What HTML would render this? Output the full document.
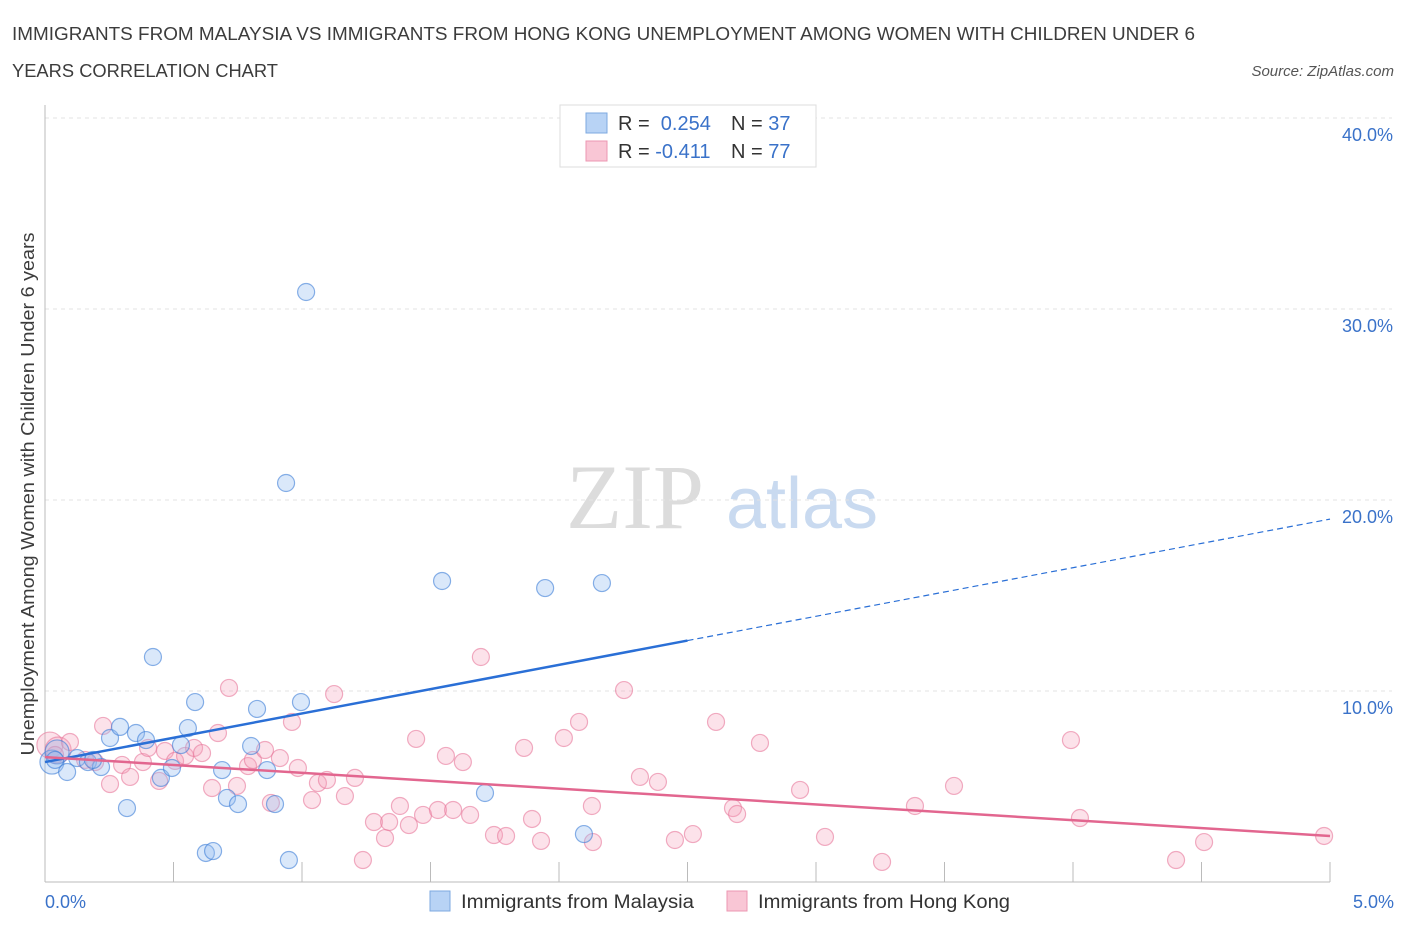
<!DOCTYPE html>
<html><head><meta charset="utf-8"><style>
body{margin:0;background:#fff;font-family:"Liberation Sans",sans-serif}
svg{display:block}
</style></head><body>
<svg id="chart" width="1406" height="930">
<text x="12" y="40" font-size="18" fill="#3c3c3c" textLength="1183" lengthAdjust="spacingAndGlyphs">IMMIGRANTS FROM MALAYSIA VS IMMIGRANTS FROM HONG KONG UNEMPLOYMENT AMONG WOMEN WITH CHILDREN UNDER 6</text>
<text x="12" y="77" font-size="18" fill="#3c3c3c" textLength="266" lengthAdjust="spacingAndGlyphs">YEARS CORRELATION CHART</text>
<text x="1394" y="76" font-size="15" fill="#555" font-style="italic" text-anchor="end">Source: ZipAtlas.com</text>
<text x="635" y="528" font-size="92" fill="#dcdcdc" font-family="Liberation Serif,serif" text-anchor="middle">ZIP</text>
<text x="802" y="528" font-size="72" fill="#c9daf0" text-anchor="middle">atlas</text>
<text transform="translate(34,494) rotate(-90)" font-size="18" fill="#3c3c3c" text-anchor="middle" textLength="523" lengthAdjust="spacingAndGlyphs">Unemployment Among Women with Children Under 6 years</text>
<g id="grid"></g><g id="axes"></g><g id="pts"></g><g id="lines"></g>
<g>
<rect x="560" y="105" width="256" height="62" fill="#fff" stroke="#ddd"/>
<rect x="586" y="113" width="21" height="20" fill="#b8d3f5" stroke="#7ea9e0"/>
<rect x="586" y="141" width="21" height="20" fill="#f9c6d5" stroke="#ec97b2"/>
<text x="618" y="130" font-size="20" fill="#333">R = <tspan fill="#3a72c9">&#160;0.254</tspan><tspan x="731">N = </tspan><tspan fill="#3a72c9">37</tspan></text>
<text x="618" y="158" font-size="20" fill="#333">R = <tspan fill="#3a72c9">-0.411</tspan><tspan x="731">N = </tspan><tspan fill="#3a72c9">77</tspan></text>
</g>
<g>
<rect x="430" y="891" width="20" height="20" fill="#b8d3f5" stroke="#7ea9e0"/>
<text x="461" y="908" font-size="19" fill="#333" textLength="233" lengthAdjust="spacingAndGlyphs">Immigrants from Malaysia</text>
<rect x="727" y="891" width="20" height="20" fill="#f9c6d5" stroke="#ec97b2"/>
<text x="758" y="908" font-size="19" fill="#333" textLength="252" lengthAdjust="spacingAndGlyphs">Immigrants from Hong Kong</text>
</g>
</svg>
<script>
const yTicks=[10,20,30,40];
const yTickLabels=["10.0%","20.0%","30.0%","40.0%"];
const xTickLabels=["0.0%","5.0%"];
const blueX=[0.027,0.047,0.086,0.125,0.167,0.218,0.253,0.292,0.319,0.354,0.393,0.420,0.451,0.494,0.529,0.556,0.584,0.626,0.654,0.689,0.708,0.751,0.802,0.825,0.864,0.895,0.949,0.996,1.016,0.938,1.545,1.712,1.946,2.097,2.167,0.039,0.187];
const blueY=[6.28,6.81,5.76,6.49,6.28,6.02,7.54,8.12,3.87,7.80,7.43,11.78,5.45,5.97,7.17,8.06,9.42,1.52,1.62,5.86,4.40,4.08,7.12,9.06,5.86,4.08,1.15,9.42,30.89,20.89,15.76,4.66,15.39,2.51,15.65,6.39,6.39];
const pinkX=[0.019,0.051,0.097,0.156,0.195,0.226,0.253,0.300,0.331,0.381,0.401,0.444,0.467,0.506,0.545,0.580,0.611,0.650,0.673,0.716,0.747,0.790,0.809,0.856,0.879,0.914,0.961,0.984,1.039,1.062,1.097,1.125,1.167,1.206,1.237,1.280,1.323,1.339,1.381,1.416,1.444,1.471,1.529,1.560,1.588,1.626,1.654,1.696,1.747,1.794,1.864,1.895,1.930,2.019,2.078,2.128,2.132,2.253,2.315,2.385,2.451,2.521,2.611,2.677,2.693,2.782,2.938,3.035,3.257,3.385,3.537,3.992,4.027,4.401,4.510,4.977,0.039];
const pinkY=[7.17,6.91,7.33,6.39,6.28,8.17,5.13,6.13,5.50,6.28,7.02,5.29,6.86,6.34,6.60,7.02,6.75,4.92,7.80,10.16,5.03,6.07,6.39,6.91,4.14,6.49,8.38,5.97,4.29,5.18,5.34,9.84,4.50,5.45,1.15,3.14,2.30,3.14,3.98,2.98,7.49,3.51,3.77,6.60,3.77,6.28,3.51,11.78,2.46,2.41,7.02,3.30,2.15,7.54,8.38,3.98,2.09,10.05,5.50,5.24,2.20,2.51,8.38,3.87,3.56,7.28,4.82,2.36,1.05,3.98,5.03,7.43,3.35,1.15,2.09,2.41,6.65];
const blueTrend=[6.28,19.0]; const blueSolidEnd=2.5;
const pinkTrend=[6.54,2.41];
const X=v=>45+v*257, Y=v=>882-v*19.1;
const NS="http://www.w3.org/2000/svg";
function mk(p,t,a){const e=document.createElementNS(NS,t);for(const k in a)e.setAttribute(k,a[k]);p.appendChild(e);return e;}
const grid=document.getElementById('grid'),axes=document.getElementById('axes'),pts=document.getElementById('pts'),lines=document.getElementById('lines');
yTicks.forEach((t,i)=>{
 const g=mk(grid,'line',{x1:45,x2:1392,y1:Y(t),y2:Y(t),stroke:'#e3e3e3','stroke-dasharray':'4,4'});
 
 
 const l=mk(axes,'text',{x:1393,y:Y(t)+23,'font-size':18,fill:'#3a72c9','text-anchor':'end'});
 l.textContent=yTickLabels[i];
 
 
});
const ax=mk(axes,'line',{x1:45,x2:45,y1:105,y2:882,stroke:'#bbb'});


const bx=mk(axes,'line',{x1:45,x2:1330,y1:882,y2:882,stroke:'#bbb'});


for(let i=1;i<=10;i++){const x=45+i*128.5;const t=mk(axes,'line',{x1:x,x2:x,y1:862,y2:882,stroke:'#bbb'});
 
 }
[[0,'start',45],[5,'end',1394]].forEach((a,i)=>{const l=mk(axes,'text',{x:a[2],y:908,'font-size':18,fill:'#3a72c9','text-anchor':a[1]});l.textContent=xTickLabels[i];
 
 });
pinkX.forEach((x,i)=>{const c=mk(pts,'circle',{cx:X(x),cy:Y(pinkY[i]),r:i<2?13:8.5,fill:'rgba(244,160,186,0.3)',stroke:'rgba(232,120,155,0.6)','stroke-width':1.2});
 
 });
blueX.forEach((x,i)=>{const c=mk(pts,'circle',{cx:X(x),cy:Y(blueY[i]),r:i<2?12:8.5,fill:'rgba(150,190,240,0.35)',stroke:'rgba(60,125,215,0.6)','stroke-width':1.2});
 
 });
const bt=v=>blueTrend[0]+(blueTrend[1]-blueTrend[0])*v/5;
const l1=mk(lines,'line',{x1:X(0),y1:Y(bt(0)),x2:X(blueSolidEnd),y2:Y(bt(blueSolidEnd)),stroke:'#2a6fd6','stroke-width':2.5});


const l2=mk(lines,'line',{x1:X(blueSolidEnd),y1:Y(bt(blueSolidEnd)),x2:X(5),y2:Y(bt(5)),stroke:'#2a6fd6','stroke-width':1.2,'stroke-dasharray':'6,4'});


const l3=mk(lines,'line',{x1:X(0),y1:Y(pinkTrend[0]),x2:X(5),y2:Y(pinkTrend[1]),stroke:'#e2668f','stroke-width':2.5});


</script>
</body></html>
